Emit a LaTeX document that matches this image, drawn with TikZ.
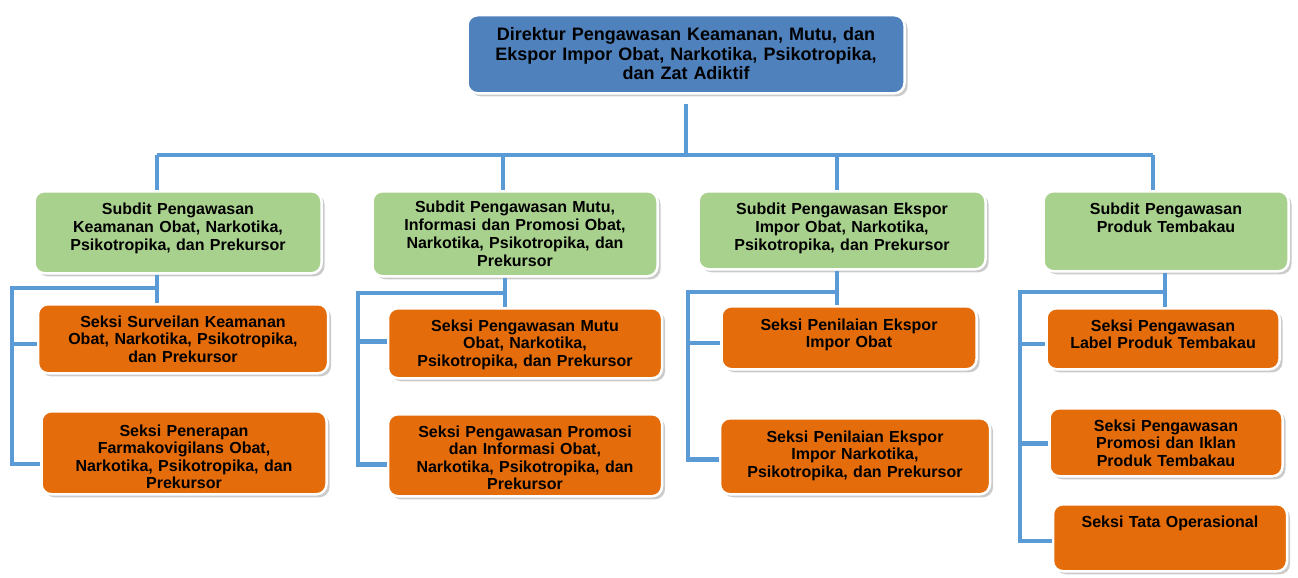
\documentclass[tikz,border=0pt]{standalone}
\usepackage{fontspec}
\setmainfont{Liberation Sans}
\usetikzlibrary{shadows}
\definecolor{biru}{RGB}{79,129,189}
\definecolor{hijau}{RGB}{169,209,142}
\definecolor{oranye}{RGB}{228,108,10}
\definecolor{garisbiru}{RGB}{91,155,213}
\begin{document}
\begin{tikzpicture}[x=1pt,y=-1pt,
    kotak/.style={shape=rectangle,rounded corners=10pt,draw=white,line width=2.5pt,anchor=north,align=center,inner xsep=5pt,inner ysep=0pt,drop shadow={shadow xshift=3pt,shadow yshift=-3pt,fill=black!40}},
    direktur/.style={kotak,fill=biru,font=\bfseries\fontsize{18}{19.5}\selectfont},
    subdit/.style={kotak,fill=hijau,font=\bfseries\fontsize{16}{18}\selectfont},
    seksi/.style={kotak,fill=oranye,font=\bfseries\fontsize{16}{17.5}\selectfont},
    garis/.style={draw=garisbiru,line width=4.5pt}]
    \useasboundingbox[fill=white] (0,0) rectangle (1298,578);
    % direktur
    \node[direktur,text width=427pt,text height=25.5pt,text depth=52.5pt] (D) at (686,14) {Direktur Pengawasan Keamanan, Mutu, dan\\Ekspor Impor Obat, Narkotika, Psikotropika,\\dan Zat Adiktif};
    % subdit
    \node[subdit,text width=277pt,text height=23.5pt,text depth=58.5pt] (S1) at (178,190) {Subdit Pengawasan\\Keamanan Obat, Narkotika,\\Psikotropika, dan Prekursor};
    \node[subdit,text width=275pt,text height=21pt,text depth=64pt] (S2) at (515,190) {Subdit Pengawasan Mutu,\\Informasi dan Promosi Obat,\\Narkotika, Psikotropika, dan\\Prekursor};
    \node[subdit,text width=277pt,text height=23.5pt,text depth=54.5pt] (S3) at (842,190) {Subdit Pengawasan Ekspor\\Impor Obat, Narkotika,\\Psikotropika, dan Prekursor};
    \node[subdit,text width=235pt,text height=23.5pt,text depth=56.5pt] (S4) at (1166,190) {Subdit Pengawasan\\Produk Tembakau};
    % seksi
    \node[seksi,text width=280pt,text height=23pt,text depth=46pt] (K11) at (183,303) {Seksi Surveilan Keamanan\\Obat, Narkotika, Psikotropika,\\dan Prekursor};
    \node[seksi,text width=275pt,text height=25pt,text depth=58pt] (K12) at (184,410) {Seksi Penerapan\\Farmakovigilans Obat,\\Narkotika, Psikotropika, dan\\Prekursor};
    \node[seksi,text width=264pt,text height=23pt,text depth=47pt] (K21) at (525,307) {Seksi Pengawasan Mutu\\Obat, Narkotika,\\Psikotropika, dan Prekursor};
    \node[seksi,text width=264pt,text height=23pt,text depth=59pt] (K22) at (525,413) {Seksi Pengawasan Promosi\\dan Informasi Obat,\\Narkotika, Psikotropika, dan\\Prekursor};
    \node[seksi,text width=245pt,text height=24pt,text depth=39pt] (K31) at (849,305) {Seksi Penilaian Ekspor\\Impor Obat};
    \node[seksi,text width=260pt,text height=24pt,text depth=52pt] (K32) at (855,417) {Seksi Penilaian Ekspor\\Impor Narkotika,\\Psikotropika, dan Prekursor};
    \node[seksi,text width=223pt,text height=23pt,text depth=38pt] (K41) at (1163,307) {Seksi Pengawasan\\Label Produk Tembakau};
    \node[seksi,text width=223pt,text height=23pt,text depth=45pt] (K42) at (1166,407) {Seksi Pengawasan\\Promosi dan Iklan\\Produk Tembakau};
    \node[seksi,text width=224pt,text height=23pt,text depth=44pt] (K43) at (1170,503) {Seksi Tata Operasional};
    % garis atas
    \coordinate (b1) at (157,155);
    \coordinate (b2) at (503,155);
    \coordinate (b3) at (837,155);
    \coordinate (b4) at (1153,155);
    \draw[garis,shorten <=9pt] (D.south) -- (D.south |- b1);
    \draw[garis] (b1) -- (b4);
    \draw[garis] (b1) -- (b1 |- S1.north);
    \draw[garis] (b2) -- (b2 |- S2.north);
    \draw[garis] (b3) -- (b3 |- S3.north);
    \draw[garis] (b4) -- (b4 |- S4.north);
    % garis bawah
    \coordinate (t1) at (157,288);
    \coordinate (l1) at (12,288);
    \coordinate (t2) at (505,293);
    \coordinate (l2) at (358,293);
    \coordinate (t3) at (837,292);
    \coordinate (l3) at (688,292);
    \coordinate (t4) at (1165,292);
    \coordinate (l4) at (1020,292);
    \draw[garis] (S1.south -| t1) -- (K11.north -| t1);
    \draw[garis] (t1) -- (l1) |- ([yshift=-11pt]K12.west);
    \draw[garis] ([yshift=-5pt]K11.west) -- ([yshift=-5pt]K11.west -| l1);
    \draw[garis] (S2.south -| t2) -- (K21.north -| t2);
    \draw[garis] (t2) -- (l2) |- ([yshift=-9pt]K22.west);
    \draw[garis] ([yshift=2pt]K21.west) -- ([yshift=2pt]K21.west -| l2);
    \draw[garis] (S3.south -| t3) -- (K31.north -| t3);
    \draw[garis] (t3) -- (l3) |- ([yshift=-3pt]K32.west);
    \draw[garis] ([yshift=-5pt]K31.west) -- ([yshift=-5pt]K31.west -| l3);
    \draw[garis] (S4.south -| t4) -- (K41.north -| t4);
    \draw[garis] (t4) -- (l4) |- ([yshift=-3pt]K43.west);
    \draw[garis] ([yshift=-5pt]K41.west) -- ([yshift=-5pt]K41.west -| l4);
    \draw[garis] ([yshift=-1pt]K42.west) -- ([yshift=-1pt]K42.west -| l4);
\end{tikzpicture}
\end{document}
